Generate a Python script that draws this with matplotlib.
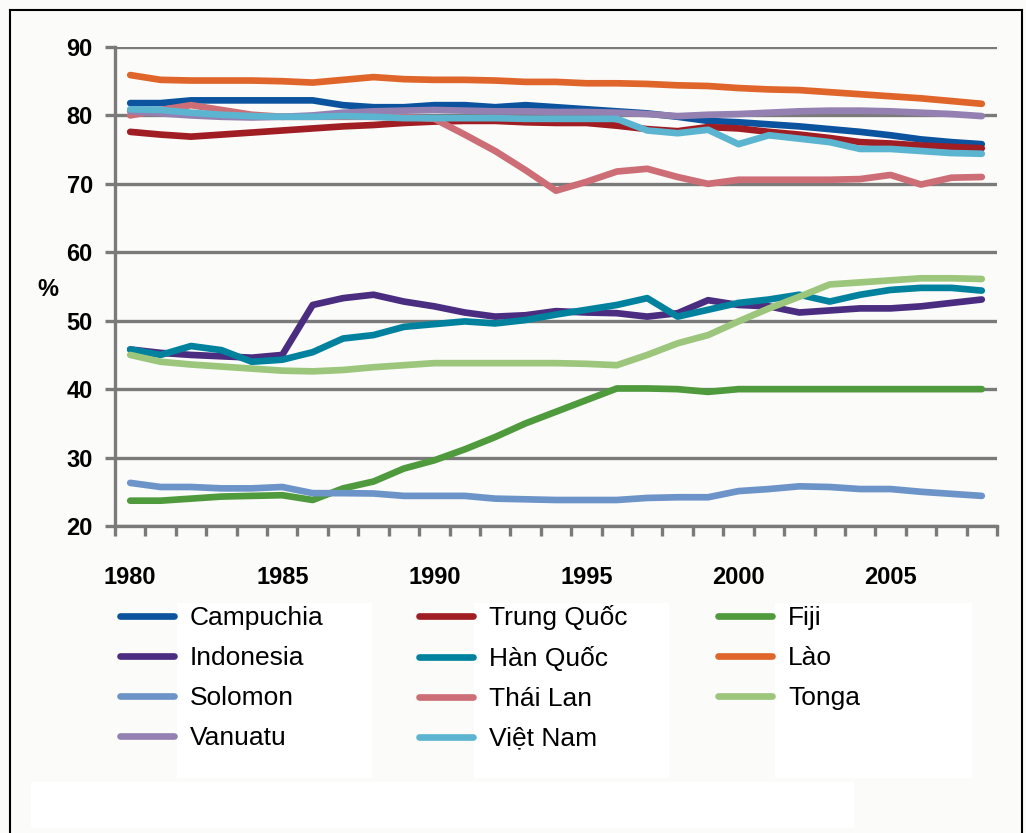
import matplotlib
matplotlib.use('Agg')
import matplotlib.pyplot as plt
from matplotlib.lines import Line2D
from matplotlib.patches import Rectangle

plt.rcParams['font.family'] = ['Liberation Sans', 'DejaVu Sans']

years = list(range(1980, 2009))
label_years = [1980, 1985, 1990, 1995, 2000, 2005]

campuchia = [81.8, 81.8, 82.2, 82.2, 82.2, 82.2, 82.2, 81.5, 81.2, 81.2, 81.5, 81.5, 81.2, 81.5, 81.2,
             80.9, 80.6, 80.3, 79.8, 79.2, 79.0, 78.7, 78.4, 78.0, 77.6, 77.1, 76.5, 76.1, 75.8]
trung_quoc = [77.6, 77.2, 76.9, 77.2, 77.5, 77.8, 78.1, 78.4, 78.6, 78.9, 79.1, 79.2, 79.2, 79.0, 78.9,
              78.9, 78.5, 78.0, 77.7, 78.3, 78.1, 77.6, 77.2, 76.7, 76.1, 75.9, 75.6, 75.4, 75.2]
fiji = [23.7, 23.7, 24.0, 24.3, 24.4, 24.5, 23.8, 25.5, 26.5, 28.4, 29.6, 31.2, 33.0, 35.0, 36.7,
        38.4, 40.1, 40.1, 40.0, 39.6, 40.0, 40.0, 40.0, 40.0, 40.0, 40.0, 40.0, 40.0, 40.0]
indonesia = [45.8, 45.3, 45.0, 44.8, 44.6, 45.0, 52.3, 53.3, 53.8, 52.8, 52.1, 51.2, 50.6, 50.8, 51.4,
             51.2, 51.1, 50.6, 51.1, 53.0, 52.3, 52.1, 51.2, 51.5, 51.8, 51.8, 52.1, 52.6, 53.1]
han_quoc = [45.8, 45.0, 46.3, 45.7, 44.0, 44.3, 45.4, 47.4, 47.9, 49.1, 49.5, 49.9, 49.6, 50.1, 50.9,
            51.6, 52.3, 53.3, 50.6, 51.6, 52.6, 53.1, 53.8, 52.8, 53.8, 54.5, 54.8, 54.8, 54.4]
lao = [85.9, 85.2, 85.1, 85.1, 85.1, 85.0, 84.8, 85.2, 85.6, 85.3, 85.2, 85.2, 85.1, 84.9, 84.9,
       84.7, 84.7, 84.6, 84.4, 84.3, 84.0, 83.8, 83.7, 83.4, 83.1, 82.8, 82.5, 82.1, 81.7]
solomon = [26.3, 25.7, 25.7, 25.5, 25.5, 25.7, 24.8, 24.8, 24.75, 24.4, 24.4, 24.4, 24.0, 23.9, 23.8,
           23.8, 23.8, 24.1, 24.2, 24.2, 25.1, 25.4, 25.8, 25.7, 25.4, 25.4, 25.0, 24.7, 24.4]
thai_lan = [80.0, 80.8, 81.5, 80.8, 80.1, 79.8, 79.8, 79.8, 79.8, 79.8, 79.5, 77.2, 74.8, 72.0, 69.0,
            70.3, 71.8, 72.2, 71.0, 70.0, 70.6, 70.6, 70.6, 70.6, 70.7, 71.3, 69.9, 70.9, 71.0]
tonga = [45.0, 44.0, 43.6, 43.3, 43.0, 42.7, 42.6, 42.8, 43.2, 43.5, 43.8, 43.8, 43.8, 43.8, 43.8,
         43.7, 43.5, 45.0, 46.7, 47.9, 49.9, 51.8, 53.5, 55.3, 55.6, 55.9, 56.2, 56.2, 56.1]
vanuatu = [80.6, 80.3, 80.0, 79.8, 79.7, 79.8, 80.0, 80.4, 80.6, 80.7, 80.8, 80.7, 80.6, 80.6, 80.5,
           80.5, 80.4, 80.2, 79.9, 80.1, 80.2, 80.4, 80.6, 80.7, 80.7, 80.6, 80.4, 80.2, 79.9]
viet_nam = [80.9, 80.8, 80.4, 80.1, 79.9, 79.8, 79.8, 79.9, 79.8, 79.6, 79.6, 79.6, 79.6, 79.5, 79.5,
            79.5, 79.5, 77.8, 77.4, 77.9, 75.8, 77.1, 76.6, 76.1, 75.1, 75.1, 74.8, 74.5, 74.4]

names = ['Campuchia', 'Trung Quốc', 'Fiji', 'Indonesia', 'Hàn Quốc', 'Lào',
         'Solomon', 'Thái Lan', 'Tonga', 'Vanuatu', 'Việt Nam']
values = [campuchia, trung_quoc, fiji, indonesia, han_quoc, lao,
          solomon, thai_lan, tonga, vanuatu, viet_nam]
colors = ['#0b539e', '#a11d24', '#4f9a3d', '#4a2c80', '#00829e', '#e0652a',
          '#6d94c8', '#cd6e76', '#9cc67b', '#9481b2', '#5cb5d0']

W, H = 1026, 833
gray = '#7a7a7a'

fig = plt.figure(figsize=(W / 100, H / 100), dpi=100, facecolor='#fbfbf9')

# light white panels behind legend columns / bottom band
for (x0, y0, x1, y1) in [(177, 603, 372, 778), (474, 603, 669, 778), (775, 603, 972, 778), (31, 782, 854, 828)]:
    fig.add_artist(Rectangle((x0 / W, 1 - y1 / H), (x1 - x0) / W, (y1 - y0) / H,
                             transform=fig.transFigure, facecolor='white', edgecolor='none', zorder=-5))

ax = fig.add_axes([115 / W, 1 - 526 / H, (997 - 115) / W, (526 - 47) / H])
ax.set_facecolor('none')

lines = {}
for name, vals, c in zip(names, values, colors):
    ln, = ax.plot(years, vals, color=c, lw=4.8, solid_capstyle='round', solid_joinstyle='round',
                  label=name, zorder=3)
    lines[name] = ln

ax.set_xlim(1979.5, 2008.5)
ax.set_ylim(20, 90)
ax.set_yticks(range(20, 91, 10))
ax.set_axisbelow(True)
ax.yaxis.grid(True, color=gray, lw=2.4)
for s in ['top', 'right']:
    ax.spines[s].set_visible(False)
for s in ['left', 'bottom']:
    ax.spines[s].set_color(gray)
    ax.spines[s].set_linewidth(2.4)

ax.set_xticks([1979.5 + i for i in range(30)])
ax.set_xticklabels([])
ax.set_xticks(label_years, minor=True)
ax.set_xticklabels([str(y) for y in label_years], minor=True)
ax.tick_params(axis='x', which='major', length=7, width=2.4, color=gray, direction='out')
ax.tick_params(axis='x', which='minor', length=0, pad=29, labelsize=17)
ax.tick_params(axis='y', length=7, width=2.4, color=gray, pad=9, labelsize=17)
for lbl in ax.get_xticklabels(minor=True) + ax.get_yticklabels():
    lbl.set_fontweight('bold')

fig.text(48 / W, 1 - 289 / H, '%', ha='center', va='center', fontsize=17, fontweight='bold')

cols = [['Campuchia', 'Indonesia', 'Solomon', 'Vanuatu'],
        ['Trung Quốc', 'Hàn Quốc', 'Thái Lan', 'Việt Nam'],
        ['Fiji', 'Lào', 'Tonga']]
anchors = [(120, 678), (419, 678), (718, 658)]
for col, (ax0, ay0) in zip(cols, anchors):
    fig.legend(handles=[lines[n] for n in col], labels=col, loc='center left',
               bbox_to_anchor=(ax0 / W, 1 - ay0 / H), frameon=False, fontsize=19,
               handlelength=2.05, handletextpad=0.6, labelspacing=0.6,
               borderpad=0, borderaxespad=0)

# outer border
for xs, ys in [([10, 10], [10, 833]), ([10, 1022], [10, 10]), ([1022, 1022], [10, 833])]:
    fig.add_artist(Line2D([x / W for x in xs], [1 - y / H for y in ys], transform=fig.transFigure,
                          color='black', lw=1.5))

fig.savefig('out.png', dpi=100, facecolor=fig.get_facecolor())
